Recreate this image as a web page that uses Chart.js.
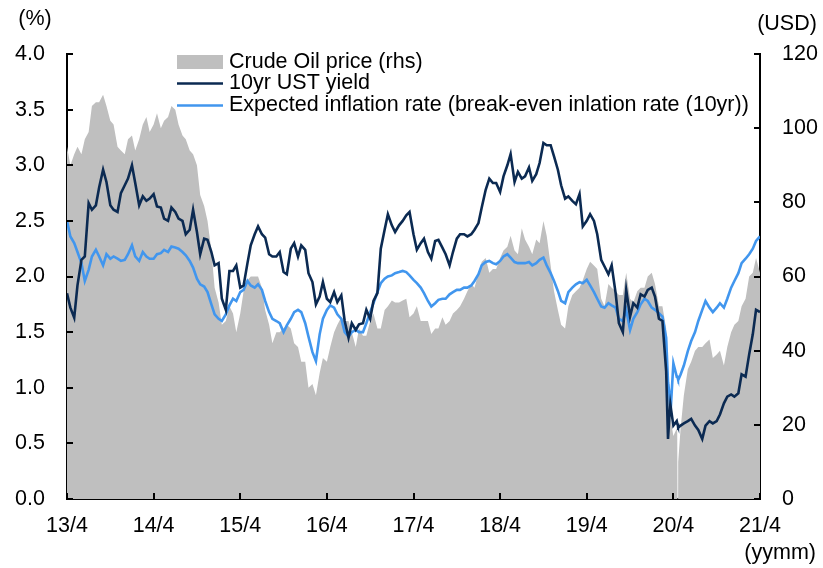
<!DOCTYPE html>
<html><head><meta charset="utf-8">
<script src="https://cdn.jsdelivr.net/npm/chart.js@4.4.1/dist/chart.umd.min.js"></script>
<style>html,body{margin:0;padding:0;background:#fff;}#wrap{width:823px;height:568px;}</style>
</head><body><div id="wrap"><canvas id="c" width="823" height="568"></canvas></div>
<script>
// ---------- DATA ----------
const dates = [
 '2013-04-01','2013-04-15','2013-05-01','2013-05-15','2013-06-01','2013-06-15','2013-07-01','2013-07-15','2013-08-01','2013-08-15','2013-09-01','2013-09-15','2013-10-01','2013-10-15','2013-11-01','2013-11-15','2013-12-01','2013-12-15',
 '2014-01-01','2014-01-15','2014-02-01','2014-02-15','2014-03-01','2014-03-15','2014-04-01','2014-04-15','2014-05-01','2014-05-15','2014-06-01','2014-06-15','2014-07-01','2014-07-15','2014-08-01','2014-08-15','2014-09-01','2014-09-15','2014-10-01','2014-10-15','2014-11-01','2014-11-15','2014-12-01','2014-12-15',
 '2015-01-01','2015-01-15','2015-02-01','2015-02-15','2015-03-01','2015-03-15','2015-04-01','2015-04-15','2015-05-01','2015-05-15','2015-06-01','2015-06-15','2015-07-01','2015-07-15','2015-08-01','2015-08-15','2015-09-01','2015-09-15','2015-10-01','2015-10-15','2015-11-01','2015-11-15','2015-12-01','2015-12-15',
 '2016-01-01','2016-01-15','2016-02-01','2016-02-15','2016-03-01','2016-03-15','2016-04-01','2016-04-15','2016-05-01','2016-05-15','2016-06-01','2016-06-15','2016-07-01','2016-07-15','2016-08-01','2016-08-15','2016-09-01','2016-09-15','2016-10-01','2016-10-15','2016-11-01','2016-11-15','2016-12-01','2016-12-15',
 '2017-01-01','2017-01-15','2017-02-01','2017-02-15','2017-03-01','2017-03-15','2017-04-01','2017-04-15','2017-05-01','2017-05-15','2017-06-01','2017-06-15','2017-07-01','2017-07-15','2017-08-01','2017-08-15','2017-09-01','2017-09-15','2017-10-01','2017-10-15','2017-11-01','2017-11-15','2017-12-01','2017-12-15',
 '2018-01-01','2018-01-15','2018-02-01','2018-02-15','2018-03-01','2018-03-15','2018-04-01','2018-04-15','2018-05-01','2018-05-15','2018-06-01','2018-06-15','2018-07-01','2018-07-15','2018-08-01','2018-08-15','2018-09-01','2018-09-15','2018-10-01','2018-10-15','2018-11-01','2018-11-15','2018-12-01','2018-12-15',
 '2019-01-01','2019-01-15','2019-02-01','2019-02-15','2019-03-01','2019-03-15','2019-04-01','2019-04-15','2019-05-01','2019-05-15','2019-06-01','2019-06-15','2019-07-01','2019-07-15','2019-08-01','2019-08-15','2019-09-01','2019-09-15','2019-10-01','2019-10-15','2019-11-01','2019-11-15','2019-12-01','2019-12-15',
 '2020-01-01','2020-01-15','2020-02-01','2020-02-15','2020-03-01','2020-03-09','2020-03-15','2020-03-19','2020-04-01','2020-04-15','2020-04-17','2020-04-20','2020-04-21','2020-05-01','2020-05-15','2020-06-01','2020-06-15','2020-07-01','2020-07-15','2020-08-01','2020-08-15','2020-09-01','2020-09-15','2020-10-01','2020-10-15','2020-11-01','2020-11-15','2020-12-01','2020-12-15',
 '2021-01-01','2021-01-15','2021-02-01','2021-02-15','2021-03-01','2021-03-15','2021-04-01'
];

const crudeOil = [
 95,90,93,95,93,97,99,106,107,107,109,106,102,101,95,94,93,97,
 98,94,97,101,103,99,101,104,100,102,103,106,105,101,98,97,94,93,90,82,79,75,67,57,
 53,47,48,52,50,45,50,56,59,60,60,60,57,51,47,42,45,45,46,47,46,42,41,37,
 37,30,31,28,34,38,37,41,45,47,49,48,48,45,41,46,44,44,48,50,46,46,51,52,
 53.5,53,53,53.5,54,49,50,52,48,48,48,44.5,46,46,49,47,48,50,51,52,54,56,58,57,
 61,64,65,61,62,62,65,67,68,71,67,66,73,70,68,66,70,69,75,71,63,56,51,47,
 46,52,55,56,57,59,62,64,63,62,54,52,58,57,56,55,55,61,54,53,56,57,57,60,
 61,58,52,52,46,31,31,22,17,19,18,-37.6,10,19,28,35,37,40,41,41,42,43,38,39,40,36,41,45,47,
 48,52,54,60,61,65,61
];

const ustYield = [
 1.85,1.72,1.63,1.92,2.15,2.18,2.66,2.60,2.64,2.80,2.96,2.85,2.64,2.60,2.58,2.75,2.82,2.88,
 3.00,2.84,2.64,2.72,2.68,2.70,2.74,2.63,2.62,2.52,2.50,2.62,2.58,2.52,2.50,2.38,2.42,2.60,2.40,2.20,2.34,2.33,2.22,2.10,
 2.12,1.80,1.70,2.05,2.05,2.10,1.90,1.92,2.12,2.28,2.38,2.45,2.38,2.35,2.20,2.18,2.18,2.22,2.04,2.02,2.25,2.30,2.18,2.28,
 2.24,2.03,1.95,1.75,1.82,1.95,1.80,1.77,1.86,1.77,1.83,1.60,1.45,1.58,1.52,1.57,1.58,1.70,1.62,1.78,1.85,2.25,2.42,2.56,
 2.46,2.40,2.46,2.50,2.55,2.58,2.38,2.24,2.30,2.34,2.22,2.16,2.32,2.33,2.26,2.20,2.10,2.22,2.34,2.38,2.38,2.36,2.38,2.42,
 2.48,2.62,2.78,2.88,2.84,2.84,2.76,2.90,3.00,3.10,2.85,2.94,2.88,2.90,2.98,2.86,2.92,3.02,3.20,3.18,3.18,3.08,2.96,2.82,
 2.70,2.72,2.68,2.65,2.74,2.45,2.50,2.56,2.50,2.38,2.15,2.09,2.02,2.10,1.85,1.58,1.50,1.88,1.64,1.76,1.72,1.84,1.82,1.88,
 1.90,1.82,1.62,1.60,1.15,0.54,0.75,0.85,0.66,0.70,0.68,0.66,0.64,0.66,0.68,0.70,0.72,0.66,0.62,0.54,0.66,0.70,0.68,0.70,0.76,0.86,0.92,0.94,0.92,
 0.95,1.12,1.10,1.30,1.48,1.70,1.68
];

const breakEven = [
 2.50,2.36,2.30,2.22,2.12,1.96,2.06,2.18,2.24,2.18,2.10,2.20,2.16,2.18,2.16,2.14,2.15,2.20,
 2.28,2.18,2.14,2.22,2.18,2.16,2.16,2.20,2.21,2.24,2.22,2.27,2.26,2.25,2.22,2.19,2.14,2.08,1.98,1.93,1.91,1.86,1.75,1.66,
 1.62,1.60,1.66,1.74,1.80,1.78,1.86,1.88,1.96,1.92,1.90,1.93,1.88,1.78,1.68,1.62,1.60,1.58,1.50,1.56,1.62,1.68,1.70,1.68,
 1.58,1.46,1.32,1.24,1.48,1.62,1.70,1.74,1.72,1.66,1.62,1.50,1.46,1.50,1.52,1.50,1.50,1.58,1.68,1.76,1.86,1.94,1.98,2.00,
 2.01,2.03,2.04,2.05,2.04,2.01,1.97,1.94,1.90,1.85,1.78,1.73,1.76,1.79,1.80,1.80,1.84,1.86,1.88,1.88,1.90,1.90,1.92,1.96,
 2.02,2.10,2.13,2.14,2.12,2.11,2.14,2.18,2.20,2.17,2.13,2.12,2.12,2.12,2.13,2.10,2.12,2.15,2.17,2.10,2.03,1.96,1.87,1.78,
 1.76,1.86,1.90,1.93,1.95,1.94,1.97,1.92,1.86,1.80,1.73,1.72,1.76,1.74,1.72,1.62,1.60,1.70,1.52,1.62,1.68,1.75,1.80,1.78,
 1.72,1.70,1.67,1.64,1.45,1.05,0.95,0.75,1.22,1.10,1.10,1.08,1.07,1.12,1.20,1.33,1.42,1.50,1.60,1.70,1.78,1.72,1.68,1.72,1.76,1.72,1.80,1.90,1.96,
 2.03,2.12,2.16,2.20,2.25,2.32,2.36
];

const xTickLabels = ['13/4','14/4','15/4','16/4','17/4','18/4','19/4','20/4','21/4'];
const seriesLabels = ['Crude Oil price (rhs)', '10yr UST yield', 'Expected inflation rate (break-even inlation rate (10yr))'];
const unitLeft = '(%)', unitRight = '(USD)', unitX = '(yymm)';

// ---------- helpers ----------
function toMonth(s) {
  const [yy, mm, dd] = s.split('-').map(Number);
  const dim = new Date(yy, mm, 0).getDate();
  return (yy - 2013) * 12 + (mm - 4) + (dd - 1) / dim;
}
const xs = dates.map(toMonth);
const pts = arr => arr.map((v, i) => ({x: xs[i], y: v}));

const FONT = '"Liberation Sans", Arial, Helvetica, sans-serif';
const FS = 21.5;
const COL_OIL = '#BFBFBF', COL_UST = '#0B2A52', COL_BE = '#4196EE';

const decor = {
  id: 'decor',
  afterDraw(chart) {
    const ctx = chart.ctx;
    const {x, y, y1} = chart.scales;
    const a = chart.chartArea;
    ctx.save();
    ctx.strokeStyle = '#000';
    ctx.lineWidth = 2;
    ctx.beginPath();
    y.ticks.forEach((t, i) => { const p = Math.round(y.getPixelForTick(i)); ctx.moveTo(a.left - 1, p); ctx.lineTo(a.left + 6, p); });
    y1.ticks.forEach((t, i) => { const p = Math.round(y1.getPixelForTick(i)); ctx.moveTo(a.right + 1, p); ctx.lineTo(a.right - 6, p); });
    x.ticks.forEach((t, i) => { const p = Math.round(x.getPixelForTick(i)); ctx.moveTo(p, a.bottom + 1); ctx.lineTo(p, a.bottom - 6); });
    ctx.stroke();

    ctx.fillStyle = '#000';
    ctx.font = FS + 'px ' + FONT;
    ctx.textBaseline = 'middle';
    ctx.textAlign = 'center';
    ctx.fillText(unitLeft, 35, 19);
    ctx.fillText(unitRight, 787, 24);
    ctx.textAlign = 'right';
    ctx.fillText(unitX, 816, 553);

    // legend
    const rows = [62, 83.5, 105.5];
    const lx0 = 177, lx1 = 223, tx = 229;
    chart.data.datasets.forEach((ds, i) => {
      const ry = rows[i];
      if (ds.fill) {
        ctx.fillStyle = ds.backgroundColor;
        ctx.fillRect(lx0, ry - 7, lx1 - lx0, 14);
      } else {
        ctx.strokeStyle = ds.borderColor;
        ctx.lineWidth = 2.5;
        ctx.beginPath(); ctx.moveTo(lx0, ry); ctx.lineTo(lx1, ry); ctx.stroke();
      }
      ctx.fillStyle = '#000';
      ctx.textAlign = 'left';
      ctx.fillText(ds.label, tx, ry);
    });
    ctx.restore();
  }
};

const tickFont = {family: FONT, size: FS};

new Chart(document.getElementById('c'), {
  type: 'line',
  data: {
    datasets: [
      {label: seriesLabels[0], data: pts(crudeOil), yAxisID: 'y1', fill: 'origin', backgroundColor: COL_OIL, borderColor: COL_OIL, borderWidth: 0, pointRadius: 0, order: 3},
      {label: seriesLabels[1], data: pts(ustYield), yAxisID: 'y', fill: false, borderColor: COL_UST, borderWidth: 2.6, pointRadius: 0, order: 1},
      {label: seriesLabels[2], data: pts(breakEven), yAxisID: 'y', fill: false, borderColor: COL_BE, borderWidth: 2.6, pointRadius: 0, order: 2}
    ]
  },
  options: {
    responsive: false,
    animation: false,
    devicePixelRatio: 1,
    layout: {padding: {top: 54, left: 0, right: 0, bottom: 0}},
    plugins: {legend: {display: false}, tooltip: {enabled: false}},
    elements: {line: {tension: 0}},
    scales: {
      x: {
        type: 'linear', min: 0, max: 96,
        ticks: {stepSize: 12, includeBounds: false, autoSkip: false, maxRotation: 0, color: '#000', font: tickFont, padding: 14,
          callback: v => xTickLabels[Math.round(v / 12)] ?? ''},
        grid: {display: false, drawTicks: false},
        border: {display: true, color: '#000', width: 2},
        afterFit: s => { s.height = 69; }
      },
      y: {
        position: 'left', min: 0, max: 4,
        ticks: {stepSize: 0.5, color: '#000', font: tickFont, padding: 22, callback: v => v.toFixed(1)},
        grid: {display: false, drawTicks: false},
        border: {display: true, color: '#000', width: 2},
        afterFit: s => { s.width = 67; }
      },
      y1: {
        position: 'right', min: 0, max: 120,
        ticks: {stepSize: 20, color: '#000', font: tickFont, padding: 22},
        grid: {display: false, drawTicks: false},
        border: {display: true, color: '#000', width: 2},
        afterFit: s => { s.width = 63; }
      }
    }
  },
  plugins: [decor]
});
</script></body></html>
